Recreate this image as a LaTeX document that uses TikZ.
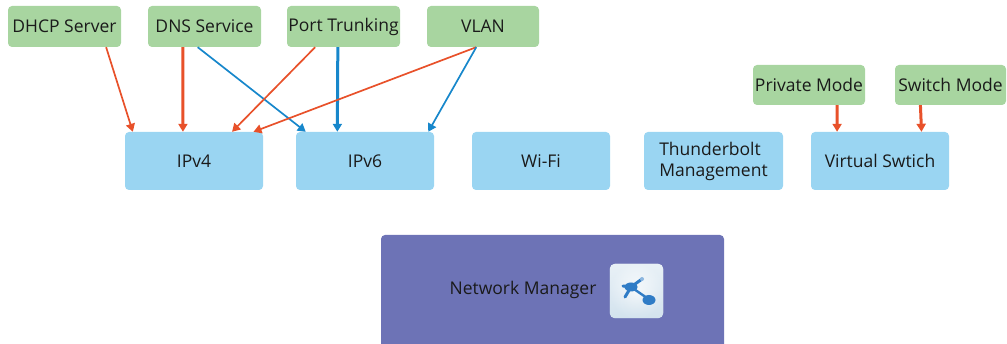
\documentclass[tikz,border=0pt]{standalone}
\usepackage{fontspec}
\setmainfont{Open Sans}
\usetikzlibrary{arrows.meta,calc}
\definecolor{gbox}{HTML}{A8D5A0}
\definecolor{bbox}{HTML}{9AD5F2}
\definecolor{pbox}{HTML}{6D73B6}
\definecolor{redar}{HTML}{E8512A}
\definecolor{bluar}{HTML}{1787CB}
\definecolor{txt}{HTML}{1A1A1A}
\definecolor{iconblue}{HTML}{2F7CC6}
\definecolor{iconedge}{HTML}{D3E3EE}
\tikzset{
  base/.style={rectangle,rounded corners=4pt,inner sep=0pt,text=txt,font=\fontsize{17.5}{20}\selectfont},
  gnode/.style={base,fill=gbox,minimum height=41pt},
  bnode/.style={base,fill=bbox,minimum height=58pt,minimum width=138pt},
  rar/.style={draw=redar,line width=1.7pt,-{Triangle[length=8pt,width=9pt]}},
  rart/.style={rar,line width=3pt},
  bar/.style={draw=bluar,line width=1.7pt,-{Triangle[length=8pt,width=9pt]}},
  bart/.style={bar,line width=3pt},
}
\begin{document}
\begin{tikzpicture}[x=1pt,y=-1pt]
\useasboundingbox (0,0) rectangle (1007,344);
% top boxes
\node[gnode,minimum width=113pt] (dhcp) at (64.5,26.5) {DHCP Server};
\node[gnode,minimum width=113pt] (dns) at (204.5,26.5) {DNS Service};
\node[gnode,minimum width=113pt] (port) at (343.5,26.5) {Port Trunking};
\node[gnode,minimum width=112pt] (vlan) at (483,26.5) {VLAN};
\node[gnode,minimum width=112pt,minimum height=40pt] (priv) at (809,85) {Private Mode};
\node[gnode,minimum width=111pt,minimum height=40pt] (swm) at (950.5,85) {Switch Mode};
% middle boxes
\node[bnode] (ipv4) at (194,161) {IPv4};
\node[bnode] (ipv6) at (365,161) {IPv6};
\node[bnode] (wifi) at (541,161) {Wi-Fi};
\node[bnode,minimum width=139pt,align=left,font=\fontsize{17.5}{21}\selectfont] (tb) at (713.5,161) {Thunderbolt\\Management};
\node[bnode] (vs) at (880,161) {Virtual Swtich};
% network manager
\node[base,fill=pbox,minimum width=343pt,minimum height=116pt] (nm) at (552.5,293) {};
\node[base,anchor=center] (nmt) at (523,290) {Network Manager};
% icon
\node[rectangle,rounded corners=5pt,minimum width=53pt,minimum height=54pt,inner sep=0pt,fill=white] (icon) at (636.5,291) {};
\shade[rounded corners=5pt,inner color=white,outer color=iconedge]
  (icon.north west) rectangle (icon.south east);
\shade[rounded corners=5pt,top color=white,bottom color=iconedge,opacity=0.5]
  (icon.north west) rectangle (icon.south east);
\coordinate (ic) at ($(icon.center)+(-5.5,-4)$);
\draw[iconblue,line width=3pt,line cap=round] (ic) -- ++(11,-8);
\draw[iconblue,line width=3pt,line cap=round] (ic) -- ++(-8,-1);
\draw[iconblue,line width=3pt,line cap=round] (ic) -- ++(-6,10);
\draw[iconblue,line width=2.4pt,line cap=round] (ic) -- ++(16,11);
\fill[iconblue] (ic) ellipse (6.5pt and 4.5pt);
\fill[iconblue] ($(ic)+(18,13)$) ellipse (6.5pt and 5pt);
\fill[iconblue!55] ($(ic)+(11,-8)$) circle (2pt);
% arrows
\draw[rar] ($(dhcp.south west)!0.867!(dhcp.south east)$) -- ($(ipv4.north west)!0.058!(ipv4.north east)$);
\draw[rart] ($(dns.south west)!0.31!(dns.south east)$) -- ($(ipv4.north west)!0.42!(ipv4.north east)$);
\draw[bar] ($(dns.south west)!0.44!(dns.south east)$) -- ($(ipv6.north west)!0.072!(ipv6.north east)$);
\draw[rar] ($(port.south west)!0.25!(port.south east)$) -- ($(ipv4.north west)!0.775!(ipv4.north east)$);
\draw[bart] ($(port.south west)!0.45!(port.south east)$) -- ($(ipv6.north west)!0.30!(ipv6.north east)$);
\draw[rar] ($(vlan.south west)!0.44!(vlan.south east)$) -- ($(ipv4.north west)!0.93!(ipv4.north east)$);
\draw[bar] ($(vlan.south west)!0.44!(vlan.south east)$) -- ($(ipv6.north west)!0.957!(ipv6.north east)$);
\draw[rart] ($(priv.south west)!0.75!(priv.south east)$) -- ($(vs.north west)!0.19!(vs.north east)$);
\draw[rart] ($(swm.south west)!0.23!(swm.south east)$) -- ($(vs.north west)!0.80!(vs.north east)$);
\end{tikzpicture}
\end{document}
